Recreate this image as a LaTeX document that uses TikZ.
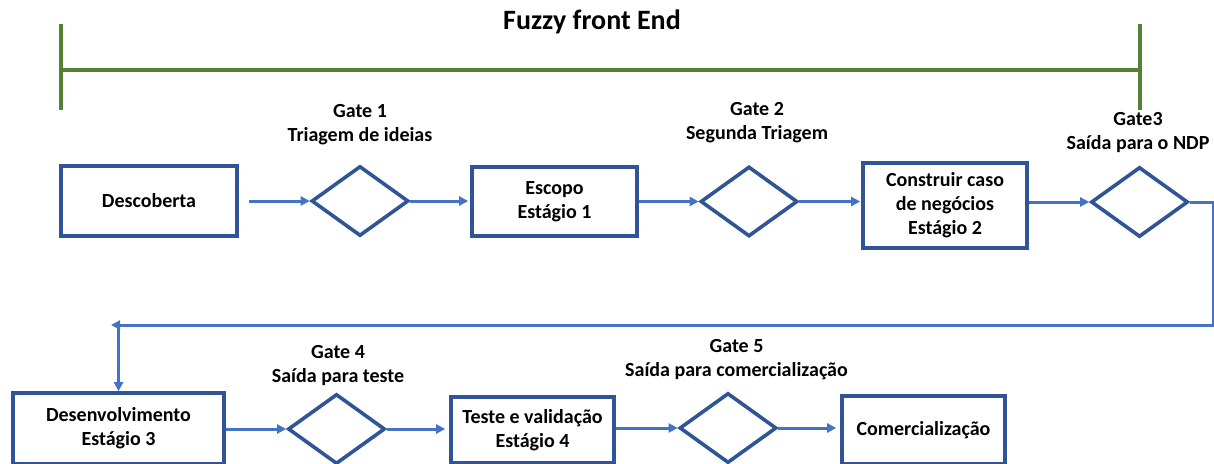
\documentclass[tikz,border=0pt]{standalone}
\usepackage{fontspec}
\setmainfont{Carlito}
\usetikzlibrary{shapes.geometric,arrows.meta}
\definecolor{boxblue}{RGB}{47,85,151}
\definecolor{arrblue}{RGB}{68,114,196}
\definecolor{fgreen}{RGB}{84,130,53}
\begin{document}
\begin{tikzpicture}[x=1pt,y=-1pt,
  every node/.style={font=\fontsize{20}{24}\selectfont\bfseries, text=black},
  stagebox/.style={draw=boxblue, line width=3.6pt, rectangle, align=center, inner sep=0pt},
  gatebox/.style={draw=boxblue, line width=3.6pt, diamond, inner sep=0pt, minimum width=97pt, minimum height=70pt},
  gatelabel/.style={align=center, inner sep=0pt},
  flow/.style={draw=arrblue, line width=3pt, -{Triangle[length=9pt,width=9pt]}},
  timeline/.style={draw=fgreen, line width=3.6pt}
]
\useasboundingbox (0,0) rectangle (1214,463);
\clip (0,0) rectangle (1214,463);

% Fuzzy front end timeline
\node[font=\fontsize{28}{32}\selectfont\bfseries] (title) at (592,22) {Fuzzy front End};
\coordinate (tl) at (61,24);
\coordinate (bl) at (61,110);
\coordinate (tr) at (1140,24);
\coordinate (br) at (1140,110);
\coordinate (ml) at (61,70);
\coordinate (mr) at (1140,70);
\draw[timeline] (tl) -- (bl);
\draw[timeline] (tr) -- (br);
\draw[timeline] (ml) -- (mr);

% Row 1
\node[stagebox, minimum width=176pt, minimum height=70pt] (desc) at (149,201) {Descoberta};
\node[gatebox] (g1) at (360,201) {};
\node[stagebox, minimum width=165pt, minimum height=69pt] (esc) at (554.5,201.5) {Escopo\\Estágio 1};
\node[gatebox] (g2) at (749,201.5) {};
\node[stagebox, minimum width=164pt, minimum height=85pt] (cons) at (945,205.5) {Construir caso\\de negócios\\Estágio 2};
\node[gatebox] (g3) at (1139.5,202) {};

\node[gatelabel] (l1) at (360,124.5) {Gate 1\\Triagem de ideias};
\node[gatelabel] (l2) at (757,123) {Gate 2\\Segunda Triagem};
\node[gatelabel] (l3) at (1138,132.5) {Gate3\\Saída para o NDP};

\draw[flow, shorten <=10pt] (desc.east) -- (g1.west);
\draw[flow, shorten >=2pt] (g1.east) -- (esc.west |- g1.east);
\draw[flow] (esc.east |- g2.west) -- (g2.west);
\draw[flow, shorten >=1pt] (g2.east) -- (cons.west |- g2.east);
\draw[flow] (cons.east |- g3.west) -- (g3.west);

% Return line
\coordinate (c1) at (1213,202);
\coordinate (c2) at (1213,325);
\coordinate (c3) at (118.5,325);
\coordinate (c3tip) at (111,325);
\draw[flow] (g3.east) -- (c1) -- (c2) -- (c3tip);

% Row 2
\node[stagebox, minimum width=211pt, minimum height=71pt] (dev) at (118.5,428.5) {Desenvolvimento\\Estágio 3};
\node[gatebox] (g4) at (336.5,429) {};
\node[stagebox, minimum width=163pt, minimum height=66pt] (teste) at (532.5,430) {Teste e validação\\Estágio 4};
\node[gatebox] (g5) at (728,428) {};
\node[stagebox, minimum width=163pt, minimum height=68pt] (com) at (923.5,430) {Comercialização};

\node[gatelabel] (l4) at (338,366) {Gate 4\\Saída para teste};
\node[gatelabel] (l5) at (736.5,359.5) {Gate 5\\Saída para comercialização};

\draw[flow] (c3) -- (dev.north);
\draw[flow] (dev.east |- g4.west) -- (g4.west);
\draw[flow, shorten >=4pt] (g4.east) -- (teste.west |- g4.east);
\draw[flow] (teste.east |- g5.west) -- (g5.west);
\draw[flow, shorten >=4pt] (g5.east) -- (com.west |- g5.east);
\end{tikzpicture}
\end{document}
